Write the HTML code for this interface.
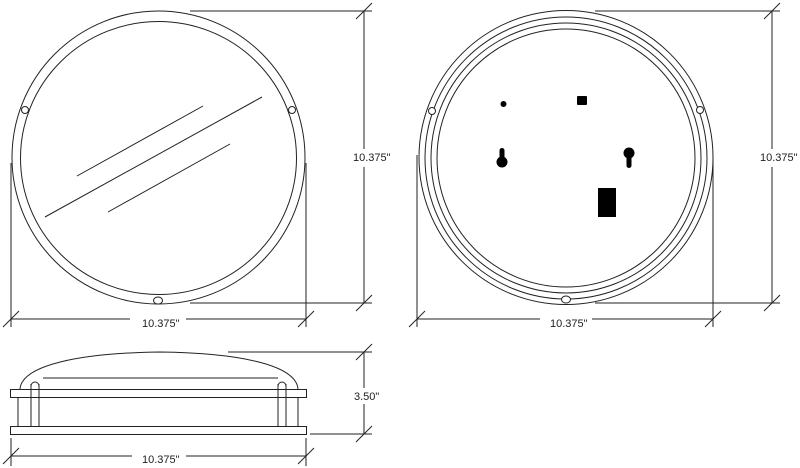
<!DOCTYPE html>
<html><head><style>body{margin:0;background:#fff}svg{display:block}text{font-family:"Liberation Sans",sans-serif;font-size:11px;fill:#222}</style></head><body>
<svg width="800" height="468" viewBox="0 0 800 468" fill="none" stroke="#222" stroke-width="1">
<!-- left view -->
<ellipse cx="158.5" cy="157.5" rx="146.5" ry="146.5"/>
<ellipse cx="158.5" cy="158" rx="138" ry="136.5"/>
<circle cx="25" cy="110" r="3.5" fill="#fff"/>
<circle cx="292" cy="110" r="3.5" fill="#fff"/>
<ellipse cx="158" cy="300.5" rx="4.5" ry="3.5" fill="#fff"/>
<line x1="77" y1="176" x2="203" y2="106"/>
<line x1="45" y1="217" x2="262" y2="97"/>
<line x1="108" y1="212" x2="230" y2="144"/>
<line x1="190" y1="11" x2="372" y2="11"/>
<line x1="190" y1="303" x2="372" y2="303"/>
<line x1="364" y1="11" x2="364" y2="149"/><line x1="364" y1="167" x2="364" y2="303"/>
<line x1="356" y1="19" x2="372" y2="3"/><line x1="356" y1="311" x2="372" y2="295"/>
<line x1="11" y1="163" x2="11" y2="327"/><line x1="306" y1="163" x2="306" y2="327"/>
<line x1="11" y1="319" x2="130" y2="319"/><line x1="186" y1="319" x2="306" y2="319"/>
<line x1="3" y1="327" x2="19" y2="311"/><line x1="298" y1="327" x2="314" y2="311"/>
<text x="353" y="161" stroke="none">10.375"</text>
<text x="142" y="327" stroke="none">10.375"</text>
<!-- right view -->
<circle cx="566" cy="157.5" r="147"/>
<circle cx="566" cy="158" r="141"/>
<circle cx="566" cy="158" r="135"/>
<circle cx="566" cy="158" r="129"/>
<circle cx="432" cy="111" r="3.5" fill="#fff"/>
<circle cx="700" cy="110" r="3.5" fill="#fff"/>
<ellipse cx="566" cy="299.5" rx="4.5" ry="3.5" fill="#fff"/>
<g fill="#000" stroke="none">
<circle cx="503.5" cy="104" r="3"/>
<rect x="577" y="96" width="10" height="9" rx="1"/>
<circle cx="502" cy="162" r="5.5"/><rect x="499.5" y="148" width="5" height="14" rx="2.5"/>
<circle cx="629" cy="153" r="5.5"/><rect x="626.5" y="153" width="5" height="15" rx="2.5"/>
<rect x="598" y="188" width="18" height="29"/>
</g>
<line x1="595" y1="11" x2="780" y2="11"/>
<line x1="595" y1="303" x2="780" y2="303"/>
<line x1="772" y1="11" x2="772" y2="149"/><line x1="772" y1="167" x2="772" y2="303"/>
<line x1="764" y1="19" x2="780" y2="3"/><line x1="764" y1="311" x2="780" y2="295"/>
<line x1="417" y1="155" x2="417" y2="327"/><line x1="713" y1="155" x2="713" y2="327"/>
<line x1="417" y1="319" x2="540" y2="319"/><line x1="592" y1="319" x2="713" y2="319"/>
<line x1="409" y1="327" x2="425" y2="311"/><line x1="705" y1="327" x2="721" y2="311"/>
<text x="760" y="161" stroke="none">10.375"</text>
<text x="550" y="327" stroke="none">10.375"</text>
<!-- side view -->
<path d="M20,389 C22,365 80,353 160,352 C240,353 296,365 298,389"/>
<line x1="43" y1="378" x2="278" y2="378"/>
<rect x="10.5" y="389.5" width="296" height="8"/>
<rect x="10.5" y="426.5" width="296" height="8"/>
<line x1="18" y1="397" x2="18" y2="426"/><line x1="31" y1="384" x2="31" y2="426"/><line x1="39" y1="384" x2="39" y2="426"/>
<path d="M31,389 L31,386 A4,4 0 0 1 39,386 L39,389"/>
<line x1="278" y1="384" x2="278" y2="426"/><line x1="286" y1="384" x2="286" y2="426"/><line x1="298" y1="397" x2="298" y2="426"/>
<path d="M278,389 L278,386 A4,4 0 0 1 286,386 L286,389"/>
<line x1="228" y1="352" x2="372" y2="352"/>
<line x1="310" y1="434" x2="372" y2="434"/>
<line x1="364" y1="352" x2="364" y2="388"/><line x1="364" y1="404" x2="364" y2="434"/>
<line x1="356" y1="360" x2="372" y2="344"/><line x1="356" y1="442" x2="372" y2="426"/>
<text x="354" y="400" stroke="none">3.50"</text>
<line x1="11" y1="438" x2="11" y2="466"/><line x1="306" y1="438" x2="306" y2="466"/>
<line x1="11" y1="456" x2="132" y2="456"/><line x1="186" y1="456" x2="306" y2="456"/>
<line x1="3" y1="464" x2="19" y2="448"/><line x1="298" y1="464" x2="314" y2="448"/>
<text x="142" y="463" stroke="none">10.375"</text>
</svg>
</body></html>
